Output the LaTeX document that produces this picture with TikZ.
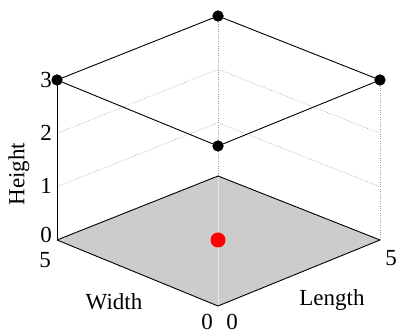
\documentclass[tikz,border=0pt]{standalone}
\usepackage{fontspec}
\setmainfont{Liberation Serif}
\begin{document}
\begin{tikzpicture}[x=1pt,y=1pt,
  lbl/.style={font=\fontsize{23}{23}\selectfont, inner sep=0pt},
  gridline/.style={gray!75, line width=0.6pt, dash pattern=on 0.8pt off 1.6pt},
  edge/.style={black, line width=0.9pt},
  corner/.style={circle, fill=black, minimum size=11pt, inner sep=0pt},
  reddot/.style={circle, fill=red, minimum size=15pt, inner sep=0pt}]
\useasboundingbox (0,0) rectangle (398,336);
% floor corners
\coordinate (L0) at (57,96);
\coordinate (F0) at (218,30);
\coordinate (R0) at (380,96);
\coordinate (B0) at (218,160);
% grid on back walls
\foreach \k in {1,2}{
  \draw[gridline] (57,{96+53.33*\k}) -- (218,{160+53.33*\k}) -- (380,{96+53.33*\k});
}
\draw[gridline] (B0) -- (218,320);
\draw[gridline] (R0) -- (380,256);
% floor
\fill[black!20] (L0) -- (F0) -- (R0) -- (B0) -- cycle;
\draw[black!10, line width=0.8pt] (B0) -- (F0);
\draw[edge] (L0) -- (F0) -- (R0);
\draw[edge] (L0) -- (B0) -- (R0);
% height axis
\draw[edge] (L0) -- (57,256);
% top square
\node[corner] (Lt) at (57,256) {};
\node[corner] (Tt) at (218,320) {};
\node[corner] (Rt) at (380,256) {};
\node[corner] (Ft) at (218,190) {};
\draw[edge] (Lt.center) -- (Tt.center) -- (Rt.center) -- (Ft.center) -- cycle;
\node[corner] at (57,256) {};
\node[corner] at (218,320) {};
\node[corner] at (380,256) {};
\node[corner] at (218,190) {};
% red point
\node[reddot] (P) at (218,96) {};
% tick labels
\node[lbl, anchor=east] (h0) at (52,101) {0};
\node[lbl, anchor=east] (h1) at (52,150) {1};
\node[lbl, anchor=east] (h2) at (52,203) {2};
\node[lbl, anchor=east] (h3) at (52,256) {3};
\node[lbl] (w5) at (45,76) {5};
\node[lbl] (w0) at (207,14) {0};
\node[lbl] (l0) at (232,14) {0};
\node[lbl] (l5) at (391,78) {5};
\node[lbl] (wl) at (114,34) {Width};
\node[lbl] (ll) at (332,36) {Length};
\node[lbl, rotate=90] (hl) at (19,162) {Height};
\end{tikzpicture}
\end{document}
